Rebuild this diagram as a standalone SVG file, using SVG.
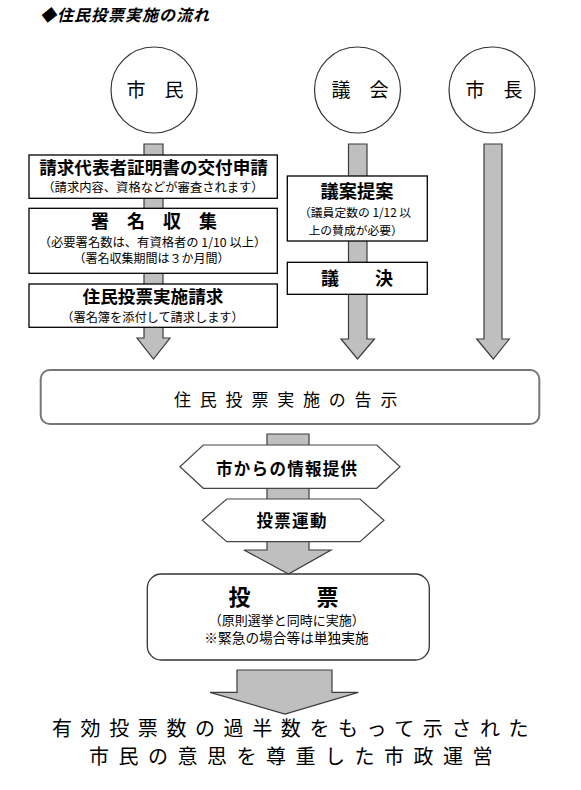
<svg xmlns="http://www.w3.org/2000/svg" width="581" height="790" viewBox="0 0 581 790">
<style>
text{font-family:"Noto Sans CJK JP","Noto Sans",sans-serif;fill:#000}
.arrow{fill:#bfbfbf;stroke:#3c3c3c;stroke-width:1.2;stroke-linejoin:miter}
.circ{fill:#fff;stroke:#333;stroke-width:1.2}
.box{fill:#fff;stroke:#000;stroke-width:1.3}
.hex{fill:#fff;stroke:#444;stroke-width:1.2}
.b{font-weight:bold}
.c{text-anchor:middle}
</style>
<rect width="581" height="790" fill="#fff"/>
<text x="40" y="21" font-size="16" font-weight="bold" font-style="italic" letter-spacing="1">◆住民投票実施の流れ</text>

<g id="connectors">
<polygon class="arrow" points="144,144 163,144 163,338 170,338 153.5,359 137,338 144,338"/>
<polygon class="arrow" points="348.5,144 367,144 367,339 374.5,339 357.5,359 341,339 348.5,339"/>
<polygon class="arrow" points="484,144 502,144 502,339 509.3,339 493.3,359 476.7,339 484,339"/>
<polygon class="arrow" points="267,434 309,434 309,550 331,550 288.5,574 244,550 267,550"/>
<polygon class="arrow" points="237,670 332,670 332,692.3 358.3,692.3 285,714 210,692.3 237,692.3"/>
</g>

<g id="citizen">
<circle class="circ" cx="154" cy="90" r="43"/>
<text class="c" x="155" y="97" font-size="19">市　民</text>
</g>
<g id="council">
<circle class="circ" cx="357.5" cy="90" r="43"/>
<text class="c" x="360" y="97" font-size="19">議　会</text>
</g>
<g id="mayor">
<circle class="circ" cx="492" cy="90" r="43"/>
<text class="c" x="494" y="97" font-size="19">市　長</text>
</g>

<g id="request-cert">
<rect class="box" x="29" y="155" width="248.3" height="43.3"/>
<text class="c b" x="153.5" y="173.6" font-size="17.6">請求代表者証明書の交付申請</text>
<text class="c" x="153" y="192" font-size="12.3">（請求内容、資格などが審査されます）</text>
</g>
<g id="signature">
<rect class="box" x="29" y="208.3" width="248.3" height="65"/>
<text class="c b" x="154" y="228" font-size="18">署　名　収　集</text>
<text class="c" x="152.5" y="246.5" font-size="12.3">（必要署名数は、有資格者の 1/10 以上）</text>
<text class="c" x="151.5" y="263" font-size="12">（署名収集期間は３か月間）</text>
</g>
<g id="vote-request">
<rect class="box" x="29" y="284" width="248.3" height="43.3"/>
<text class="c b" x="153" y="302.8" font-size="17.6">住民投票実施請求</text>
<text class="c" x="152.5" y="321.5" font-size="12.2">（署名簿を添付して請求します）</text>
</g>

<g id="bill">
<rect class="box" x="287.3" y="176" width="140" height="65"/>
<text class="c b" x="357" y="197.8" font-size="18.2">議案提案</text>
<text x="299" y="217.4" font-size="11.8">（議員定数の 1/12 以</text>
<text x="308.5" y="234.6" font-size="11.8">上の賛成が必要）</text>
</g>
<g id="resolution">
<rect class="box" x="287.3" y="262.3" width="140" height="32"/>
<text class="c b" x="357" y="285" font-size="18">議　　決</text>
</g>

<g id="notice">
<rect x="40.7" y="370" width="498.6" height="54" rx="9" fill="#fff" stroke="#777" stroke-width="2"/>
<text x="174" y="405.6" font-size="17" letter-spacing="8.8">住民投票実施の告示</text>
</g>

<g id="info">
<polygon class="hex" points="180,466.7 203.3,445 376.7,445 400,466.7 376.7,488.3 203.3,488.3"/>
<text class="b" x="216" y="475.2" font-size="16.5" letter-spacing="1.3">市からの情報提供</text>
</g>
<g id="campaign">
<polygon class="hex" points="202.3,520.3 226.7,499 360,499 384,520.3 360,541.7 226.7,541.7"/>
<text class="b" x="256.5" y="526.6" font-size="16.5" letter-spacing="1.3">投票運動</text>
</g>

<g id="vote">
<rect x="147.3" y="574" width="282" height="86" rx="14" fill="#fff" stroke="#333" stroke-width="1.3"/>
<text class="b" y="604.8" font-size="22"><tspan x="228.5">投</tspan><tspan x="316.5">票</tspan></text>
<text class="c" x="286.7" y="624.8" font-size="13">（原則選挙と同時に実施）</text>
<text class="c" x="286.5" y="643.2" font-size="13.7">※緊急の場合等は単独実施</text>
</g>

<g id="result">
<text x="52" y="735.7" font-size="20" letter-spacing="8.6">有効投票数の過半数をもって示された</text>
<text x="89" y="764.1" font-size="20" letter-spacing="9.5">市民の意思を尊重した市政運営</text>
</g>
</svg>
